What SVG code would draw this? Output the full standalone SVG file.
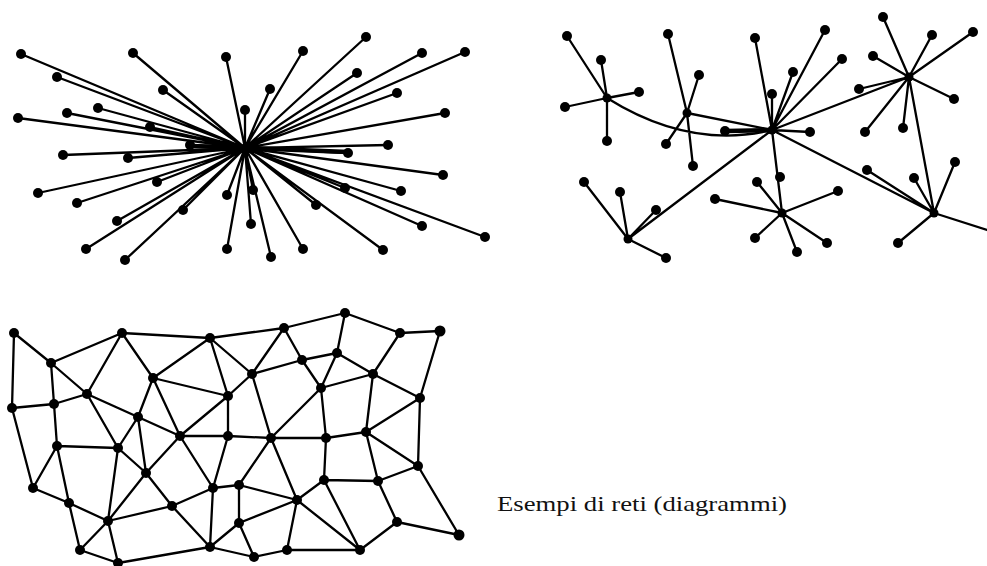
<svg xmlns="http://www.w3.org/2000/svg" width="987" height="566" viewBox="0 0 987 566">
<style>
.l{stroke:#000;stroke-width:2.3;fill:none;stroke-linecap:round}
.t{stroke:#000;stroke-width:4.5;fill:none}
.n{fill:#000}
.cap{font-family:"Liberation Serif","Times New Roman",serif;font-size:21px;fill:#111}
</style>
<rect width="987" height="566" fill="#fff"/>
<g id="connectors">
<path class="l" d="M245,148L21,54M245,148L133,53M245,148L226,57M245,148L57,77M245,148L163,90M245,148L245,110M245,148L18,118M245,148L67,113M245,148L98,108M245,148L150,127M245,148L303,51M245,148L366,37M245,148L422,53M245,148L465,52M245,148L270,89M245,148L357,73M245,148L397,93M245,148L445,113M245,148L388,145M245,148L63,155M245,148L128,158M245,148L38,193M245,148L157,182M245,148L77,203M245,148L117,221M245,148L183,210M245,148L227,195M245,148L86,249M245,148L125,260M245,148L227,249M245,148L251,224M245,148L348,153M245,148L443,175M245,148L401,191M245,148L422,226M245,148L485,237M245,148L383,250M245,148L303,249M245,148L271,257M245,148L253,190M245,148L316,205M245,148L345,188M245,148L190,145"/>
<path class="t" d="M192,146L245,148L348,152"/>
<path class="l" d="M607,98L567,36M607,98L601,60M607,98L639,92M607,98L565,107M607,98L607,141M607,98Q690,150 772,130M687,113L668,34M687,113L699,75M687,113L666,144M687,113L693,166M687,113L772,130M772,130L755,38M772,130L825,30M772,130L842,59M772,130L793,72M772,130L772,94M772,130L810,132M772,130L909,77M772,130L782,213M772,130L628,239M772,130L934,213M909,77L883,17M909,77L932,35M909,77L973,32M909,77L873,56M909,77L954,99M909,77L859,89M909,77L903,128M909,77L865,132M909,77L934,213M782,213L715,199M782,213L757,182M782,213L838,191M782,213L827,243M782,213L797,252M782,213L755,238M628,239L584,182M628,239L620,192M628,239L656,210M628,239L666,258M934,213L867,170M934,213L914,178M934,213L955,162M934,213L898,243M934,213L987,230"/>
<path class="t" d="M726,131L772,130"/>
<path class="l" d="M14,333L51,363M14,333L12,408M51,363L122,333M122,333L210,338M210,338L284,328M51,363L87,394M122,333L87,394M122,333L153,378M210,338L153,378M210,338L228,396M210,338L252,374M153,378L228,396M153,378L138,417M153,378L180,436M51,363L54,404M12,408L54,404M54,404L87,394M87,394L138,417M138,417L180,436M228,396L180,436M54,404L57,446M12,408L33,488M138,417L118,448M138,417L146,473M87,394L118,448M228,396L228,436M228,396L252,374M284,328L345,313M345,313L400,333M400,333L440,331M284,328L252,374M284,328L302,360M345,313L337,353M302,360L337,353M252,374L302,360M302,360L321,388M337,353L321,388M337,353L373,374M400,333L373,374M373,374L321,388M373,374L420,398M440,331L420,398M252,374L271,438M321,388L271,438M321,388L326,438M373,374L366,432M420,398L366,432M420,398L418,466M271,438L326,438M326,438L366,432M228,436L271,438M271,438L239,485M271,438L297,500M326,438L324,480M366,432L418,466M366,432L378,481M324,480L378,481M418,466L378,481M324,480L297,500M239,485L297,500M297,500L239,523M297,500L287,550M297,500L360,550M324,480L360,550M378,481L397,522M397,522L360,550M397,522L459,535M418,466L459,535M287,550L360,550M254,557L287,550M239,523L254,557M239,485L239,523M213,488L239,485M57,446L118,448M57,446L33,488M57,446L69,503M33,488L69,503M118,448L146,473M118,448L108,521M146,473L108,521M146,473L172,506M146,473L180,436M180,436L228,436M180,436L213,488M228,436L213,488M213,488L172,506M213,488L210,547M172,506L108,521M172,506L210,547M69,503L108,521M69,503L80,550M108,521L80,550M108,521L118,563M80,550L118,563M118,563L210,547M210,547L254,557M210,547L239,523"/>
</g>
<g id="nodes">
<g id="n-central" class="n">
<circle cx="245" cy="148" r="4.5"/><circle cx="21" cy="54" r="5"/><circle cx="133" cy="53" r="5"/><circle cx="226" cy="57" r="5"/><circle cx="57" cy="77" r="5"/><circle cx="163" cy="90" r="5"/><circle cx="245" cy="110" r="5"/><circle cx="18" cy="118" r="5"/><circle cx="67" cy="113" r="5"/><circle cx="98" cy="108" r="5"/><circle cx="150" cy="127" r="5"/><circle cx="303" cy="51" r="5"/><circle cx="366" cy="37" r="5"/><circle cx="422" cy="53" r="5"/><circle cx="465" cy="52" r="5"/><circle cx="270" cy="89" r="5"/><circle cx="357" cy="73" r="5"/><circle cx="397" cy="93" r="5"/><circle cx="445" cy="113" r="5"/><circle cx="388" cy="145" r="5"/><circle cx="63" cy="155" r="5"/><circle cx="128" cy="158" r="5"/><circle cx="38" cy="193" r="5"/><circle cx="157" cy="182" r="5"/><circle cx="77" cy="203" r="5"/><circle cx="117" cy="221" r="5"/><circle cx="183" cy="210" r="5"/><circle cx="227" cy="195" r="5"/><circle cx="86" cy="249" r="5"/><circle cx="125" cy="260" r="5"/><circle cx="227" cy="249" r="5"/><circle cx="251" cy="224" r="5"/><circle cx="348" cy="153" r="5"/><circle cx="443" cy="175" r="5"/><circle cx="401" cy="191" r="5"/><circle cx="422" cy="226" r="5"/><circle cx="485" cy="237" r="5"/><circle cx="383" cy="250" r="5"/><circle cx="303" cy="249" r="5"/><circle cx="271" cy="257" r="5"/><circle cx="253" cy="190" r="5"/><circle cx="316" cy="205" r="5"/><circle cx="345" cy="188" r="5"/><circle cx="190" cy="145" r="5"/>
</g>
<g id="n-decentral" class="n">
<circle cx="607" cy="98" r="4.5"/><circle cx="687" cy="113" r="4.5"/><circle cx="772" cy="130" r="4.5"/><circle cx="909" cy="77" r="4.5"/><circle cx="782" cy="213" r="4.5"/><circle cx="628" cy="239" r="4.5"/><circle cx="934" cy="213" r="4.5"/>
<circle cx="567" cy="36" r="5"/><circle cx="601" cy="60" r="5"/><circle cx="639" cy="92" r="5"/><circle cx="565" cy="107" r="5"/><circle cx="607" cy="141" r="5"/><circle cx="668" cy="34" r="5"/><circle cx="699" cy="75" r="5"/><circle cx="666" cy="144" r="5"/><circle cx="693" cy="166" r="5"/><circle cx="755" cy="38" r="5"/><circle cx="825" cy="30" r="5"/><circle cx="842" cy="59" r="5"/><circle cx="793" cy="72" r="5"/><circle cx="772" cy="94" r="5"/><circle cx="810" cy="132" r="5"/><circle cx="725" cy="131" r="5"/><circle cx="883" cy="17" r="5"/><circle cx="932" cy="35" r="5"/><circle cx="973" cy="32" r="5"/><circle cx="873" cy="56" r="5"/><circle cx="954" cy="99" r="5"/><circle cx="859" cy="89" r="5"/><circle cx="903" cy="128" r="5"/><circle cx="865" cy="132" r="5"/><circle cx="715" cy="199" r="5"/><circle cx="757" cy="182" r="5"/><circle cx="780" cy="177" r="5"/><circle cx="838" cy="191" r="5"/><circle cx="827" cy="243" r="5"/><circle cx="797" cy="252" r="5"/><circle cx="755" cy="238" r="5"/><circle cx="584" cy="182" r="5"/><circle cx="620" cy="192" r="5"/><circle cx="656" cy="210" r="5"/><circle cx="666" cy="258" r="5"/><circle cx="867" cy="170" r="5"/><circle cx="914" cy="178" r="5"/><circle cx="955" cy="162" r="5"/><circle cx="898" cy="243" r="5"/>
</g>
<g id="n-distributed" class="n">
<circle cx="14" cy="333" r="5"/><circle cx="122" cy="333" r="5"/><circle cx="210" cy="338" r="5"/><circle cx="51" cy="363" r="5"/><circle cx="153" cy="378" r="5"/><circle cx="87" cy="394" r="5"/><circle cx="228" cy="396" r="5"/><circle cx="12" cy="408" r="5"/><circle cx="54" cy="404" r="5"/><circle cx="138" cy="417" r="5"/><circle cx="284" cy="328" r="5"/><circle cx="345" cy="313" r="5"/><circle cx="400" cy="333" r="5"/><circle cx="440" cy="331" r="5.5"/><circle cx="252" cy="374" r="5"/><circle cx="302" cy="360" r="5"/><circle cx="337" cy="353" r="5"/><circle cx="373" cy="374" r="5"/><circle cx="321" cy="388" r="5"/><circle cx="420" cy="398" r="5"/><circle cx="366" cy="432" r="5"/><circle cx="57" cy="446" r="5"/><circle cx="118" cy="448" r="5"/><circle cx="146" cy="473" r="5"/><circle cx="33" cy="488" r="5"/><circle cx="69" cy="503" r="5"/><circle cx="108" cy="521" r="5"/><circle cx="172" cy="506" r="5"/><circle cx="213" cy="488" r="5"/><circle cx="180" cy="436" r="5"/><circle cx="228" cy="436" r="5"/><circle cx="80" cy="550" r="5"/><circle cx="210" cy="547" r="5"/><circle cx="118" cy="563" r="5"/><circle cx="271" cy="438" r="5"/><circle cx="326" cy="438" r="5"/><circle cx="418" cy="466" r="5"/><circle cx="239" cy="485" r="5"/><circle cx="324" cy="480" r="5"/><circle cx="378" cy="481" r="5"/><circle cx="297" cy="500" r="5"/><circle cx="239" cy="523" r="5"/><circle cx="397" cy="522" r="5"/><circle cx="459" cy="535" r="5.5"/><circle cx="254" cy="557" r="5"/><circle cx="287" cy="550" r="5"/><circle cx="360" cy="550" r="5"/>
</g>
</g>
<text class="cap" x="497" y="511" textLength="290" lengthAdjust="spacingAndGlyphs">Esempi di reti (diagrammi)</text>
</svg>
